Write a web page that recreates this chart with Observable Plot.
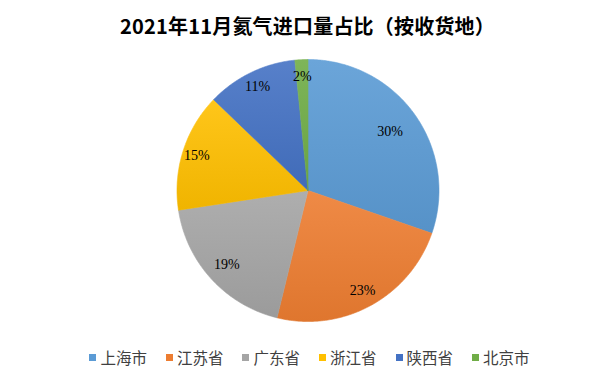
<!DOCTYPE html>
<html>
<head>
<meta charset="utf-8">
<script src="https://cdn.jsdelivr.net/npm/d3@7"></script>
<script src="https://cdn.jsdelivr.net/npm/@observablehq/plot@0.6"></script>
<style>
  html, body { margin: 0; padding: 0; background: #fff; }
  #wrap { width: 615px; height: 379px; position: relative; font-family: "Noto Sans CJK SC", sans-serif; }
  #title { height: 45px; line-height: 52px; text-align: center; font-size: 20px; font-weight: bold; color: #000; letter-spacing: 0.2px; }
  #legend { height: 44px; display: flex; justify-content: center; align-items: center; gap: 19px; font-size: 15.5px; color: #404040; padding-left: 4px; box-sizing: border-box; }
  .item { display: flex; align-items: center; }
  .sw { width: 7px; height: 7px; margin-right: 4px; }
  svg { display: block; }
</style>
</head>
<body>
<div id="wrap">
  <div id="title">2021年11月氦气进口量占比（按收货地）</div>
  <div id="chart"></div>
  <div id="legend"></div>
</div>
<script>
// Data
const categories = ["上海市", "江苏省", "广东省", "浙江省", "陕西省", "北京市"];
const shares = [30.3, 23.5, 18.8, 14.6, 11.2, 1.6];
const labels = ["30%", "23%", "19%", "15%", "11%", "2%"];
const colors = ["#5B9BD5", "#ED7D31", "#A5A5A5", "#FFC000", "#4472C4", "#70AD47"];

// layout
const W = 615, H = 290, R = 131, CX = 307.5, CY = 145;
const labelRadius = [0.77, 0.87, 0.84, 0.89, 0.88, 0.87];

const pie = d3.pie().sort(null).value(d => d.value).startAngle(0).endAngle(2 * Math.PI);
const arcs = pie(categories.map((c, i) => ({name: c, value: shares[i], i})));

const pts = [];
arcs.forEach(a => {
  const name = a.data.name, i = a.data.i;
  pts.push({name, i, x: 0, y: 0});
  const n = Math.max(4, Math.ceil((a.endAngle - a.startAngle) / (Math.PI / 360)));
  for (let k = 0; k <= n; k++) {
    const t = a.startAngle + (a.endAngle - a.startAngle) * k / n;
    pts.push({name, i, x: Math.sin(t), y: Math.cos(t)});
  }
  pts.push({name, i, x: 0, y: 0});
});

const labelData = arcs.map((a, j) => {
  const m = (a.startAngle + a.endAngle) / 2;
  return {text: labels[j], x: labelRadius[j] * Math.sin(m), y: labelRadius[j] * Math.cos(m)};
});

const chart = Plot.plot({
  width: W, height: H,
  margin: 0,
  x: {domain: [-CX / R, (W - CX) / R], axis: null},
  y: {domain: [-(H - CY) / R, CY / R], axis: null},
  color: {type: "identity"},
  marks: [
    Plot.line(pts, {x: "x", y: "y", z: "name", fill: d => `url(#grad${d.i})`, stroke: d => `url(#grad${d.i})`, strokeWidth: 0.6, curve: "linear"}),
    Plot.text(labelData, {x: "x", y: "y", text: "text", fill: "#000", fontSize: 14, fontFamily: "Liberation Serif, serif"})
  ]
});

// gradients (Excel-like shading)
const ns = "http://www.w3.org/2000/svg";
const defs = document.createElementNS(ns, "defs");
colors.forEach((c, i) => {
  const g = document.createElementNS(ns, "linearGradient");
  g.setAttribute("id", "grad" + i);
  g.setAttribute("x1", "0"); g.setAttribute("y1", "0");
  g.setAttribute("x2", "0"); g.setAttribute("y2", "1");
  const top = d3.interpolateRgb(c, "#ffffff")(0.1);
  const bot = d3.interpolateRgb(c, "#000000")(0.06);
  [[0, top], [1, bot]].forEach(([o, col]) => {
    const s = document.createElementNS(ns, "stop");
    s.setAttribute("offset", o);
    s.setAttribute("stop-color", col);
    g.appendChild(s);
  });
  defs.appendChild(g);
});
chart.insertBefore(defs, chart.firstChild);
document.getElementById("chart").appendChild(chart);

// legend
const leg = document.getElementById("legend");
categories.forEach((c, i) => {
  const it = document.createElement("div");
  it.className = "item";
  const sw = document.createElement("div");
  sw.className = "sw";
  sw.style.background = colors[i];
  const tx = document.createElement("span");
  tx.textContent = c;
  it.appendChild(sw); it.appendChild(tx);
  leg.appendChild(it);
});
</script>
</body>
</html>
